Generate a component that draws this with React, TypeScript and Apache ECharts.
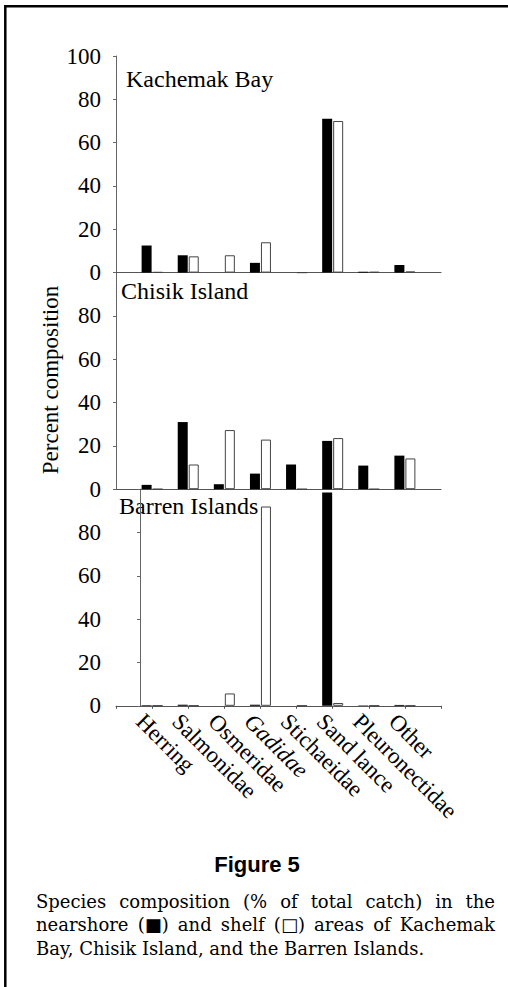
import React, { useEffect, useRef } from 'react';
import * as echarts from 'echarts';

const categories = ['Herring', 'Salmonidae', 'Osmeridae', 'Gadidae', 'Stichaeidae', 'Sand lance', 'Pleuronectidae', 'Other'];
const italicCategories = ['Gadidae'];
const panelTitles = ['Kachemak Bay', 'Chisik Island', 'Barren Islands'];
const yTicks = [0, 20, 40, 60, 80, 100];

const kachemakNearshore = [12.5, 8, 0, 4.5, 0, 71, 0.4, 3.5];
const kachemakShelf = [0.2, 7.5, 8, 14, 0, 70, 0.3, 0.5];
const chisikNearshore = [2, 31, 2.3, 7.2, 11.4, 22.3, 10.9, 15.5];
const chisikShelf = [0, 11.4, 27.3, 22.9, 0, 23.6, 0, 14.2];
const barrenNearshore = [0.3, 0.5, 0, 0.5, 0, 98.5, 0.2, 0.4];
const barrenShelf = [0, 0, 5.7, 92, 0, 1.3, 0, 0];

const figureLabel = 'Figure 5';
const captionLines = [
  'Species composition (% of total catch) in the',
  'nearshore (\u25A0) and shelf (\u25A1) areas of Kachemak',
  'Bay, Chisik Island, and the Barren Islands.',
];
const yAxisName = 'Percent composition';

const SERIF = 'Liberation Serif';
const CAPTION_FONT = 'DejaVu Serif';
const CAPTION_SIZE = 18;

export default function App() {
  const ref = useRef<HTMLDivElement>(null);

  useEffect(() => {
    const chart = echarts.init(ref.current as HTMLDivElement, null, { renderer: 'svg' });
    const gridTops = [56, 272.6, 489.2];
    const gridH = 216.6;
    const left = 116;
    const width = 325;
    const axisCats = ['', ...categories, ''];
    const panels = [
      [kachemakNearshore, kachemakShelf],
      [chisikNearshore, chisikShelf],
      [barrenNearshore, barrenShelf],
    ];

    const grid = gridTops.map((t) => ({ left, top: t, width, height: gridH }));

    const xAxis: any[] = gridTops.map((_, i) => ({
      type: 'category',
      gridIndex: i,
      data: axisCats,
      boundaryGap: false,
      axisLine: { show: true, lineStyle: { color: '#555', width: 1 } },
      axisTick: { show: i === 2, interval: 0, length: 3, lineStyle: { color: '#555' } },
      axisLabel: { show: false },
      splitLine: { show: false },
    }));
    xAxis.push({
      type: 'value',
      gridIndex: 2,
      position: 'bottom',
      min: -0.665,
      max: 8.335,
      splitNumber: 9,
      minInterval: 1,
      maxInterval: 1,
      axisLine: { show: false },
      axisTick: { show: false },
      splitLine: { show: false },
      axisLabel: {
        show: true,
        rotate: -45,
        margin: 12,
        showMinLabel: false,
        showMaxLabel: false,
        fontFamily: SERIF,
        fontSize: 23,
        color: '#000',
        formatter: (v: number) => {
          const r = Math.round(v);
          if (Math.abs(v - r) > 1e-6 || r < 0 || r >= categories.length) return '';
          const name = categories[r];
          return italicCategories.includes(name) ? `{it|${name}}` : name;
        },
        rich: {
          it: { fontStyle: 'italic', fontFamily: SERIF, fontSize: 23, color: '#000' },
        },
      },
    });

    const yAxis = gridTops.map((_, i) => ({
      type: 'value',
      gridIndex: i,
      min: yTicks[0],
      max: yTicks[yTicks.length - 1],
      interval: 20,
      axisLine: { show: true, lineStyle: { color: '#666', width: 1 } },
      axisTick: { show: true, length: 3, lineStyle: { color: '#666' } },
      splitLine: { show: false },
      axisLabel: {
        margin: 15,
        fontFamily: SERIF,
        fontSize: 23,
        color: '#000',
        formatter: (v: number) => (i > 0 && v === 100 ? '' : String(v)),
      },
    }));

    const series: any[] = [];
    panels.forEach(([near, shelf], i) => {
      series.push({
        type: 'bar',
        name: `nearshore-${i}`,
        xAxisIndex: i,
        yAxisIndex: i,
        barWidth: 10,
        barGap: '10%',
        data: near.map((v, k) => [k + 1, v]),
        itemStyle: { color: '#000' },
      });
      series.push({
        type: 'bar',
        name: `shelf-${i}`,
        xAxisIndex: i,
        yAxisIndex: i,
        barWidth: 10,
        barGap: '10%',
        data: shelf.map((v, k) => [k + 1, v]),
        itemStyle: { color: '#fff', borderColor: '#444', borderWidth: 1 },
      });
    });

    const titlePos = [
      { x: 126, y: 79 },
      { x: 121, y: 291 },
      { x: 119, y: 506 },
    ];

    // Caption: justified paragraph (all lines but the last stretched to full width)
    const ctx = document.createElement('canvas').getContext('2d') as CanvasRenderingContext2D;
    ctx.font = `${CAPTION_SIZE}px ${CAPTION_FONT}`;
    const capLeft = 36;
    const capRight = 495;
    const captionGraphics: any[] = [];
    captionLines.forEach((line, li) => {
      const y = 901 + li * 23.5;
      const style = { fontFamily: CAPTION_FONT, fontSize: CAPTION_SIZE, fill: '#000', align: 'left', verticalAlign: 'middle' };
      if (li === captionLines.length - 1) {
        captionGraphics.push({ type: 'text', x: capLeft, y, style: { ...style, text: line } });
        return;
      }
      const words = line.split(' ');
      const widths = words.map((w) => ctx.measureText(w).width);
      const total = widths.reduce((a, b) => a + b, 0);
      const gap = (capRight - capLeft - total) / (words.length - 1);
      let x = capLeft;
      words.forEach((w, wi) => {
        captionGraphics.push({ type: 'text', x, y, style: { ...style, text: w } });
        x += widths[wi] + gap;
      });
    });

    const graphic: any[] = [
      {
        type: 'rect',
        shape: { x: 5.3, y: 6.2, width: 700, height: 1200 },
        style: { fill: 'none', stroke: '#000', lineWidth: 2.5 },
        silent: true,
      },
      ...panelTitles.map((t, i) => ({
        type: 'text',
        x: titlePos[i].x,
        y: titlePos[i].y,
        style: { text: t, fontFamily: SERIF, fontSize: 24, fill: '#000', align: 'left', verticalAlign: 'middle' },
      })),
      {
        type: 'text',
        x: 50,
        y: 380,
        rotation: Math.PI / 2,
        style: { text: yAxisName, fontFamily: SERIF, fontSize: 23, fill: '#000', align: 'center', verticalAlign: 'middle' },
      },
      {
        type: 'text',
        x: 257,
        y: 864,
        style: { text: figureLabel, fontFamily: 'Liberation Sans', fontWeight: 'bold', fontSize: 22, fill: '#000', align: 'center', verticalAlign: 'middle' },
      },
      ...captionGraphics,
    ];

    chart.setOption({
      animation: false,
      backgroundColor: '#fff',
      grid,
      xAxis,
      yAxis,
      series,
      graphic,
    });

    return () => chart.dispose();
  }, []);

  return (
    <div
      ref={ref}
      style={{ position: 'absolute', left: 0, top: 0, width: 508, height: 987, background: '#fff' }}
    />
  );
}
